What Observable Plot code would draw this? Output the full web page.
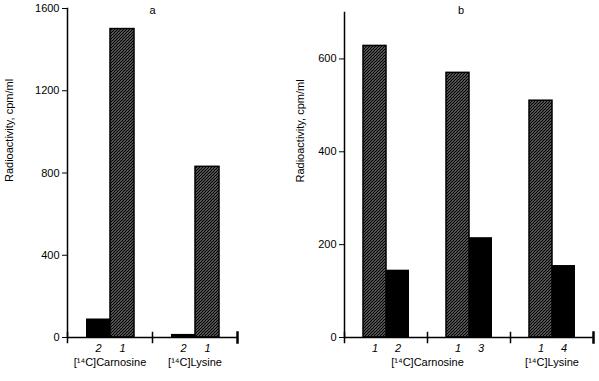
<!DOCTYPE html>
<html><head><meta charset="utf-8">
<script src="https://cdn.jsdelivr.net/npm/d3@7"></script>
<script src="https://cdn.jsdelivr.net/npm/@observablehq/plot@0.6"></script>
<style>
body{margin:0;background:#fff;}
#wrap{display:flex;width:599px;height:381px;overflow:hidden;}
svg{display:block;}
</style></head><body><div id="wrap"></div>
<script>
// ---- Panel a ----
const groupsA = ["Carnosine", "Carnosine", "Lysine", "Lysine"];
const slotsA = ["first", "second", "first", "second"];
const barLabelsA = ["2", "1", "2", "1"];
const valuesA = [90, 1500, 15, 830];
const categoriesA = ["Carnosine", "Lysine"];
const categoryLabelsA = ["[¹⁴C]Carnosine", "[¹⁴C]Lysine"];
const yTicksA = [0, 400, 800, 1200, 1600];

// ---- Panel b ----
const groupsB = ["Carnosine 1", "Carnosine 1", "Carnosine 2", "Carnosine 2", "Lysine", "Lysine"];
const slotsB = ["first", "second", "first", "second", "first", "second"];
const barLabelsB = ["1", "2", "1", "3", "1", "4"];
const valuesB = [628, 145, 570, 215, 510, 155];
const categoriesB = ["Carnosine 1", "Carnosine 2", "Lysine"];
const categoryLabelsB = ["[¹⁴C]Carnosine", "[¹⁴C]Lysine"];
const yTicksB = [0, 200, 400, 600];

const yLabel = "Radioactivity, cpm/ml";

const tableA = groupsA.map((g, i) => ({group: g, slot: slotsA[i], label: barLabelsA[i], value: valuesA[i]}));
const tableB = groupsB.map((g, i) => ({group: g, slot: slotsB[i], label: barLabelsB[i], value: valuesB[i]}));
const catA = categoriesA.map((g, i) => ({group: g, text: categoryLabelsA[i]}));

const font = "'Liberation Sans', Arial, Helvetica, sans-serif";
const style = {fontFamily: font, fontSize: "11px", color: "black", background: "white", overflow: "visible"};
const H = 381;

function addDefs(node, id) {
  const svg = node.tagName.toLowerCase() === "svg" ? node : node.querySelector("svg");
  d3.select(svg).insert("defs", ":first-child").html(
    `<pattern id="${id}" patternUnits="userSpaceOnUse" width="3" height="3">
       <rect width="3" height="3" fill="white"/>
       <path d="M-1,1 L1,-1 M0,3 L3,0 M2,4 L4,2" stroke="black" stroke-width="1.6"/>
     </pattern>`);
  return node;
}

// Panel a
const mtA = 8, mbA = 44, fhA = H - mtA - mbA;
const plotA = Plot.plot({
  width: 280, height: H,
  marginLeft: 67, marginRight: 43, marginTop: mtA, marginBottom: mbA,
  style,
  fx: {domain: categoriesA, padding: 0, axis: null},
  x: {domain: ["first", "second"], paddingInner: 0, paddingOuter: 0.72, axis: null},
  y: {domain: [0, 1600], ticks: yTicksA, tickFormat: "d", tickSize: 5, tickPadding: 3, label: null},
  marks: [
    Plot.barY(tableA, {filter: d => d.label !== "1", fx: "group", x: "slot", y: "value", fill: "black"}),
    Plot.barY(tableA, {filter: d => d.label === "1", fx: "group", x: "slot", y: "value", fill: "url(#hatchA)", stroke: "black", strokeWidth: 1.5}),
    Plot.ruleY([0], {strokeWidth: 1.5}),
    Plot.frame({anchor: "left", facetAnchor: "left", strokeWidth: 1.5}),
    Plot.frame({anchor: "left", insetTop: fhA - 5, insetBottom: -5, strokeWidth: 1.5}),
    Plot.frame({anchor: "right", facetAnchor: "right", insetTop: fhA - 5, insetBottom: -5, strokeWidth: 2.5}),
    Plot.text(tableA, {fx: "group", x: "slot", text: "label", frameAnchor: "bottom", lineAnchor: "middle", dy: 11, fontStyle: "italic"}),
    Plot.text(catA, {fx: "group", text: "text", frameAnchor: "bottom", lineAnchor: "middle", dy: 25}),
    Plot.text(["a"], {facet: "super", frameAnchor: "top", lineAnchor: "middle", dy: 2}),
    Plot.text([yLabel], {facet: "super", frameAnchor: "left", lineAnchor: "middle", rotate: -90, dx: -58, dy: 9})
  ]
});
addDefs(plotA, "hatchA");

// Panel b
const mtB = 12, mbB = 44, fhB = H - mtB - mbB;
const plotB = Plot.plot({
  width: 319, height: H,
  marginLeft: 63, marginRight: 6, marginTop: mtB, marginBottom: mbB,
  style,
  fx: {domain: categoriesB, padding: 0, axis: null},
  x: {domain: ["first", "second"], paddingInner: 0, paddingOuter: 0.765, axis: null},
  y: {domain: [0, 700], ticks: yTicksB, tickFormat: "d", tickSize: 5, tickPadding: 3, label: null},
  marks: [
    Plot.barY(tableB, {filter: d => d.label !== "1", fx: "group", x: "slot", y: "value", fill: "black"}),
    Plot.barY(tableB, {filter: d => d.label === "1", fx: "group", x: "slot", y: "value", fill: "url(#hatchB)", stroke: "black", strokeWidth: 1.5}),
    Plot.ruleY([0], {strokeWidth: 1.5}),
    Plot.frame({anchor: "left", facetAnchor: "left", strokeWidth: 1.5}),
    Plot.frame({anchor: "left", insetTop: fhB - 5, insetBottom: -5, strokeWidth: 1.5}),
    Plot.frame({anchor: "right", facetAnchor: "right", insetTop: fhB - 5, insetBottom: -5, strokeWidth: 2.5}),
    Plot.text(tableB, {fx: "group", x: "slot", text: "label", frameAnchor: "bottom", lineAnchor: "middle", dy: 11, fontStyle: "italic"}),
    Plot.text([{group: categoriesB[1], text: categoryLabelsB[0]}], {fx: "group", text: "text", frameAnchor: "bottom-left", textAnchor: "middle", lineAnchor: "middle", dy: 25}),
    Plot.text([{group: categoriesB[2], text: categoryLabelsB[1]}], {fx: "group", text: "text", frameAnchor: "bottom", lineAnchor: "middle", dy: 25}),
    Plot.text(["b"], {facet: "super", frameAnchor: "top", lineAnchor: "middle", dx: -8, dy: -2.5}),
    Plot.text([yLabel], {facet: "super", frameAnchor: "left", lineAnchor: "middle", rotate: -90, dx: -44.5, dy: 7.5})
  ]
});
addDefs(plotB, "hatchB");

const wrap = document.getElementById("wrap");
wrap.appendChild(plotA);
wrap.appendChild(plotB);
</script>
</body></html>
